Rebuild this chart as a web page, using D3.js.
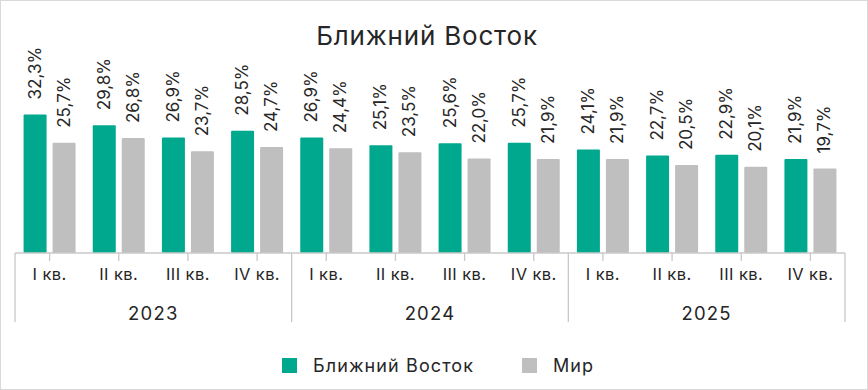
<!DOCTYPE html>
<html>
<head>
<meta charset="utf-8">
<script src="https://cdn.jsdelivr.net/npm/d3@7"></script>
<style>
  body { margin: 0; background: #fff; }
  svg { font-family: Inter, "Noto Sans", sans-serif; }
</style>
</head>
<body>
<svg id="chart" width="868" height="390"></svg>
<script>
// data
const years = ['2023', '2024', '2025'];
const quarters = ['I кв.', 'II кв.', 'III кв.', 'IV кв.'];
const seriesNames = ['Ближний Восток', 'Мир'];
const nearEast = [32.3, 29.8, 26.9, 28.5, 26.9, 25.1, 25.6, 25.7, 24.1, 22.7, 22.9, 21.9];
const world = [25.7, 26.8, 23.7, 24.7, 24.4, 23.5, 22.0, 21.9, 21.9, 20.5, 20.1, 19.7];

const colors = ['#00a88e', '#bfbfbf'];
const textColor = '#262626';
const lineColor = '#c8c8c8';

const svg = d3.select('#chart');
const width = +svg.attr('width'), height = +svg.attr('height');

// frame
svg.append('rect')
  .attr('x', 0.5).attr('y', 0.5)
  .attr('width', width - 1).attr('height', height - 1)
  .attr('fill', '#fff').attr('stroke', '#d9d9d9');

// categories: one per year/quarter
const cats = [];
years.forEach(y => quarters.forEach(q => cats.push(y + '|' + q)));

const left = 15, right = 845, axisY = 253;

const x0 = d3.scaleBand().domain(cats).range([left, right]);
const x1 = d3.scaleBand().domain(seriesNames).range([0, x0.bandwidth()])
  .paddingInner(0.207).paddingOuter(0.296);
const y = d3.scaleLinear().domain([0, 40]).range([axisY, axisY - 40 * 4.29]);

const rows = cats.map((c, i) => ({ cat: c, vals: [nearEast[i], world[i]] }));

const g = svg.append('g');

const grp = g.selectAll('.cat')
  .data(rows)
  .enter().append('g')
  .attr('transform', d => 'translate(' + x0(d.cat) + ',0)');

grp.selectAll('rect')
  .data(d => d.vals.map((v, k) => ({ name: seriesNames[k], v: v, k: k })))
  .enter().append('rect')
  .attr('x', d => x1(d.name))
  .attr('y', d => y(d.v))
  .attr('width', x1.bandwidth())
  .attr('height', d => y(0) - y(d.v))
  .attr('rx', 1)
  .attr('fill', d => colors[d.k]);

// value labels, rotated
grp.selectAll('text.val')
  .data(d => d.vals.map((v, k) => ({ name: seriesNames[k], v: v })))
  .enter().append('text')
  .attr('class', 'val')
  .attr('transform', d => 'translate(' + (x1(d.name) + x1.bandwidth() / 2 + 5.5) + ',' + (y(d.v) - 15) + ') rotate(-90)')
  .attr('font-size', 17)
  .attr('fill', textColor)
  .text(d => d.v.toFixed(1).replace('.', ',') + '%');

// axis line
g.append('line')
  .attr('x1', left).attr('x2', right)
  .attr('y1', axisY).attr('y2', axisY)
  .attr('stroke', lineColor).attr('stroke-width', 1.3);

// small ticks
g.selectAll('.tick')
  .data(cats)
  .enter().append('line')
  .attr('x1', d => x0(d) + x0.bandwidth() / 2)
  .attr('x2', d => x0(d) + x0.bandwidth() / 2)
  .attr('y1', axisY).attr('y2', axisY + 8)
  .attr('stroke', lineColor).attr('stroke-width', 1.3);

// quarter labels
g.selectAll('.qlab')
  .data(cats)
  .enter().append('text')
  .attr('x', d => x0(d) + x0.bandwidth() / 2)
  .attr('y', axisY + 27)
  .attr('text-anchor', 'middle')
  .attr('font-size', 16.5)
  .attr('letter-spacing', 0.4)
  .attr('fill', textColor)
  .text(d => d.split('|')[1]);

// year separators and labels
const yearW = (right - left) / years.length;
g.selectAll('.sep')
  .data(d3.range(years.length + 1))
  .enter().append('line')
  .attr('x1', i => x0(cats[Math.min(i * 4, cats.length - 1)]) + (i === years.length ? x0.bandwidth() : 0))
  .attr('x2', i => x0(cats[Math.min(i * 4, cats.length - 1)]) + (i === years.length ? x0.bandwidth() : 0))
  .attr('y1', axisY).attr('y2', 322)
  .attr('stroke', lineColor).attr('stroke-width', 1.3);

g.selectAll('.ylab')
  .data(years)
  .enter().append('text')
  .attr('x', (d, i) => x0(cats[i * 4]) + yearW / 2)
  .attr('y', 320)
  .attr('text-anchor', 'middle')
  .attr('font-size', 18.5)
  .attr('letter-spacing', 1.2)
  .attr('fill', textColor)
  .text(d => d);

// title
svg.append('text')
  .attr('x', 427).attr('y', 45)
  .attr('text-anchor', 'middle')
  .attr('font-size', 26)
  .attr('letter-spacing', 0.8)
  .attr('fill', textColor)
  .text('Ближний Восток');

// legend
const legX = [282, 522];
const leg = svg.selectAll('.leg')
  .data(seriesNames)
  .enter().append('g')
  .attr('transform', (d, i) => 'translate(' + legX[i] + ',358)');
leg.append('rect')
  .attr('width', 15).attr('height', 15)
  .attr('fill', (d, i) => colors[i]);
leg.append('text')
  .attr('x', 31).attr('y', 14)
  .attr('font-size', 18)
  .attr('letter-spacing', 1.1)
  .attr('fill', textColor)
  .text(d => d);
</script>
</body>
</html>
